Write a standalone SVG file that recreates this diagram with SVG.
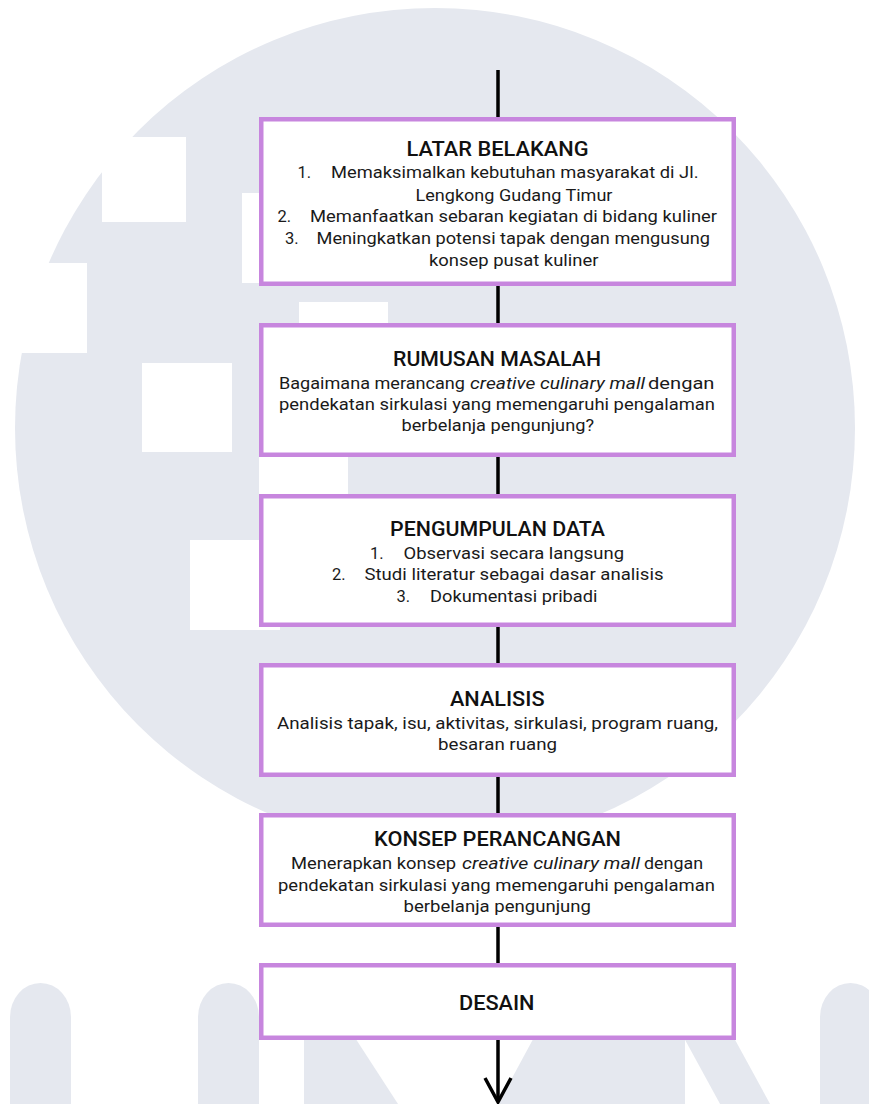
<svg xmlns="http://www.w3.org/2000/svg" width="869" height="1104" viewBox="0 0 869 1104">
<defs>
<style>
.bg{fill:#e5e8ef}
.hole{fill:#ffffff}
.box{fill:#ffffff;stroke:#c786de;stroke-width:4.5}
.title{font-family:Roboto,"Liberation Sans",sans-serif;font-size:19.5px;font-weight:500;fill:#111111}
.body{font-family:Roboto,"Liberation Sans",sans-serif;font-size:16.5px;fill:#1a1a1a}
.it{font-style:italic}
.conn{stroke:#000000;stroke-width:3.5;fill:none}
</style>
<marker id="arrow" markerUnits="userSpaceOnUse" markerWidth="40" markerHeight="40" refX="0" refY="0" viewBox="-30 -20 40 40" orient="auto" overflow="visible">
<path d="M-24,-13 L0,0 L-24,13" fill="none" stroke="#000000" stroke-width="3.5"/>
</marker>
</defs>
<rect x="0" y="0" width="869" height="1104" fill="#ffffff"/>
<g id="watermark">
<circle class="bg" cx="435" cy="428" r="420"/>
<rect class="hole" x="102" y="137" width="84" height="85"/>
<rect class="hole" x="0" y="263" width="87" height="90"/>
<rect class="hole" x="242" y="193" width="60" height="90"/>
<rect class="hole" x="142" y="363" width="90" height="89"/>
<rect class="hole" x="299" y="302" width="89" height="60"/>
<rect class="hole" x="259" y="410" width="89" height="90"/>
<rect class="hole" x="190" y="540" width="90" height="90"/>
<path class="bg" d="M10,1104 V1017 A30.5,34 0 0 1 71,1017 V1104 Z"/>
<path class="bg" d="M198,1104 V1017 A30.5,34 0 0 1 259,1017 V1104 Z"/>
<polygon class="bg" points="304,1030 350,1030 398,1104 304,1104"/>
<polygon class="bg" points="538,1030 629,1030 629,1104 498,1104"/>
<rect class="bg" x="629" y="990" width="56" height="114"/>
<polygon class="bg" points="654,983 704,983 781,1124 731,1124"/>
<path class="bg" d="M820,1104 V1017 A30.5,34 0 0 1 881,1017 V1104 Z"/>
</g>
<g id="connectors">
<line class="conn" x1="498" y1="70" x2="498" y2="119"/>
<line class="conn" x1="498" y1="284" x2="498" y2="325"/>
<line class="conn" x1="498" y1="455" x2="498" y2="496"/>
<line class="conn" x1="498" y1="625" x2="498" y2="665"/>
<line class="conn" x1="498" y1="775" x2="498" y2="815"/>
<line class="conn" x1="498" y1="925" x2="498" y2="965"/>
<line class="conn" x1="498" y1="1038" x2="498" y2="1102" marker-end="url(#arrow)"/>
</g>
<g id="latar-belakang">
<rect class="box" x="261.25" y="119.25" width="472.5" height="164.5"/>
<text class="title" x="406.5" y="156" textLength="182" lengthAdjust="spacingAndGlyphs">LATAR BELAKANG</text>
<text class="body" x="297.5" y="178">1.</text>
<text class="body" x="331" y="178" textLength="367.5" lengthAdjust="spacingAndGlyphs">Memaksimalkan kebutuhan masyarakat di Jl.</text>
<text class="body" x="415.5" y="200.5" textLength="197" lengthAdjust="spacingAndGlyphs">Lengkong Gudang Timur</text>
<text class="body" x="277.5" y="222">2.</text>
<text class="body" x="310" y="222" textLength="407" lengthAdjust="spacingAndGlyphs">Memanfaatkan sebaran kegiatan di bidang kuliner</text>
<text class="body" x="285" y="244">3.</text>
<text class="body" x="316.5" y="244" textLength="393.5" lengthAdjust="spacingAndGlyphs">Meningkatkan potensi tapak dengan mengusung</text>
<text class="body" x="429" y="266" textLength="169.5" lengthAdjust="spacingAndGlyphs">konsep pusat kuliner</text>
</g>
<g id="rumusan-masalah">
<rect class="box" x="261.25" y="325.25" width="472.5" height="129.5"/>
<text class="title" x="393" y="366" textLength="208" lengthAdjust="spacingAndGlyphs">RUMUSAN MASALAH</text>
<text class="body" y="388.5"><tspan x="279" textLength="186" lengthAdjust="spacingAndGlyphs">Bagaimana merancang</tspan><tspan class="it" x="470" textLength="175" lengthAdjust="spacingAndGlyphs">creative culinary mall</tspan><tspan x="648" textLength="66.5" lengthAdjust="spacingAndGlyphs">dengan</tspan></text>
<text class="body" x="279" y="409.5" textLength="436" lengthAdjust="spacingAndGlyphs">pendekatan sirkulasi yang memengaruhi pengalaman</text>
<text class="body" x="401.5" y="431" textLength="192.5" lengthAdjust="spacingAndGlyphs">berbelanja pengunjung?</text>
</g>
<g id="pengumpulan-data">
<rect class="box" x="261.25" y="496.25" width="472.5" height="128.5"/>
<text class="title" x="390" y="536" textLength="215" lengthAdjust="spacingAndGlyphs">PENGUMPULAN DATA</text>
<text class="body" x="370" y="558.5">1.</text>
<text class="body" x="403.5" y="558.5" textLength="220.5" lengthAdjust="spacingAndGlyphs">Observasi secara langsung</text>
<text class="body" x="332" y="580">2.</text>
<text class="body" x="364.5" y="580" textLength="299" lengthAdjust="spacingAndGlyphs">Studi literatur sebagai dasar analisis</text>
<text class="body" x="396.5" y="602">3.</text>
<text class="body" x="430" y="602" textLength="167.5" lengthAdjust="spacingAndGlyphs">Dokumentasi pribadi</text>
</g>
<g id="analisis">
<rect class="box" x="261.25" y="665.25" width="472.5" height="109.5"/>
<text class="title" x="450" y="706" textLength="94.5" lengthAdjust="spacingAndGlyphs">ANALISIS</text>
<text class="body" x="277" y="728.5" textLength="441" lengthAdjust="spacingAndGlyphs">Analisis tapak, isu, aktivitas, sirkulasi, program ruang,</text>
<text class="body" x="438" y="750" textLength="119" lengthAdjust="spacingAndGlyphs">besaran ruang</text>
</g>
<g id="konsep-perancangan">
<rect class="box" x="261.25" y="815.25" width="472.5" height="109.5"/>
<text class="title" x="374" y="846" textLength="247" lengthAdjust="spacingAndGlyphs">KONSEP PERANCANGAN</text>
<text class="body" y="868.5"><tspan x="291" textLength="165" lengthAdjust="spacingAndGlyphs">Menerapkan konsep</tspan><tspan class="it" x="462" textLength="178" lengthAdjust="spacingAndGlyphs">creative culinary mall</tspan><tspan x="644" textLength="59" lengthAdjust="spacingAndGlyphs">dengan</tspan></text>
<text class="body" x="278" y="890.5" textLength="437" lengthAdjust="spacingAndGlyphs">pendekatan sirkulasi yang memengaruhi pengalaman</text>
<text class="body" x="403.5" y="912" textLength="187.5" lengthAdjust="spacingAndGlyphs">berbelanja pengunjung</text>
</g>
<g id="desain">
<rect class="box" x="261.25" y="965.25" width="472.5" height="72.5"/>
<text class="title" x="459" y="1010" textLength="75.5" lengthAdjust="spacingAndGlyphs">DESAIN</text>
</g>
</svg>
